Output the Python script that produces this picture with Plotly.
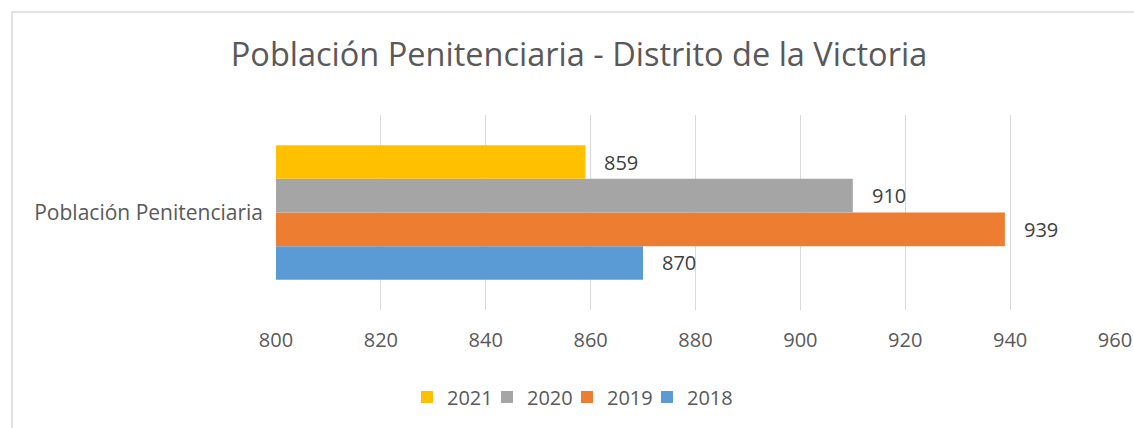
import plotly.graph_objects as go

categories = ["Población Penitenciaria"]
years = ["2018", "2019", "2020", "2021"]
values = [870, 939, 910, 859]
colors = ["#5B9BD5", "#ED7D31", "#A5A5A5", "#FFC000"]
x_ticks = [800, 820, 840, 860, 880, 900, 920, 940, 960]

FONT = "Open Sans"
BARGAP = 0.31
W, H = 1134, 428
ML, MR, MT, MB = 276, 19, 115, 118
PW, PH = W - ML - MR, H - MT - MB

# one small legend per series so the entries sit at Excel-like spacing
legend_names = ["legend4", "legend3", "legend2", "legend"]   # 2018 .. 2021
legend_left = [647, 567, 487, 407]                            # px, 2018 .. 2021

fig = go.Figure()
for yr, v, c, lg in zip(years, values, colors, legend_names):
    fig.add_trace(go.Bar(
        y=categories, x=[v], name=yr, orientation="h", legend=lg,
        showlegend=True,
        marker=dict(color=c, line=dict(width=0)),
    ))

# data labels placed to the right of each bar end
n = len(values)
bw = (1 - BARGAP) / n
annotations = []
for i, v in enumerate(values):
    yc = -(1 - BARGAP) / 2 + bw * (i + 0.5)
    annotations.append(dict(
        x=v, y=yc, xref="x", yref="y", text=str(v), showarrow=False,
        xanchor="left", yanchor="middle", xshift=17,
        font=dict(family=FONT, size=20, color="#404040"),
    ))

legend_y = -(397 - (MT + PH)) / PH
legend_cfg = {}
for lg, lx in zip(legend_names, legend_left):
    legend_cfg[lg] = dict(orientation="h", x=(lx - ML) / PW, xanchor="left",
                          y=legend_y, yanchor="middle",
                          bgcolor="rgba(0,0,0,0)",
                          font=dict(family=FONT, size=20, color="#595959"))

fig.update_layout(
    width=W, height=H, showlegend=True,
    paper_bgcolor="white", plot_bgcolor="white",
    barmode="group", bargap=BARGAP, bargroupgap=0,
    margin=dict(l=ML, r=MR, t=MT, b=MB, autoexpand=False),
    title=dict(text="Población Penitenciaria - Distrito de la Victoria",
               x=579 / W, xanchor="center", y=1 - 55 / H, yanchor="middle",
               font=dict(family=FONT, size=32.5, color="#595959")),
    font=dict(family=FONT, size=20, color="#595959"),
    xaxis=dict(range=[800, 960], tickvals=x_ticks, showgrid=True,
               gridcolor="#D9D9D9", gridwidth=1, zeroline=False,
               showline=False, ticks="", ticklabelstandoff=16,
               tickfont=dict(family=FONT, size=20, color="#595959")),
    yaxis=dict(showgrid=False, zeroline=False, showline=False, ticks="",
               ticklabelstandoff=12,
               tickfont=dict(family=FONT, size=21, color="#595959")),
    annotations=annotations,
    shapes=[dict(type="rect", xref="paper", yref="paper",
                 x0=-(ML - 12) / PW, x1=1.2, y0=-2, y1=1 + (MT - 12) / PH,
                 line=dict(color="#D9D9D9", width=1.5), fillcolor="rgba(0,0,0,0)",
                 layer="below")],
    **legend_cfg,
)
fig.write_html(
    "out.html",
    config={"displayModeBar": False},
    post_script="document.body.style.margin='0';document.body.style.overflow='hidden';",
)
